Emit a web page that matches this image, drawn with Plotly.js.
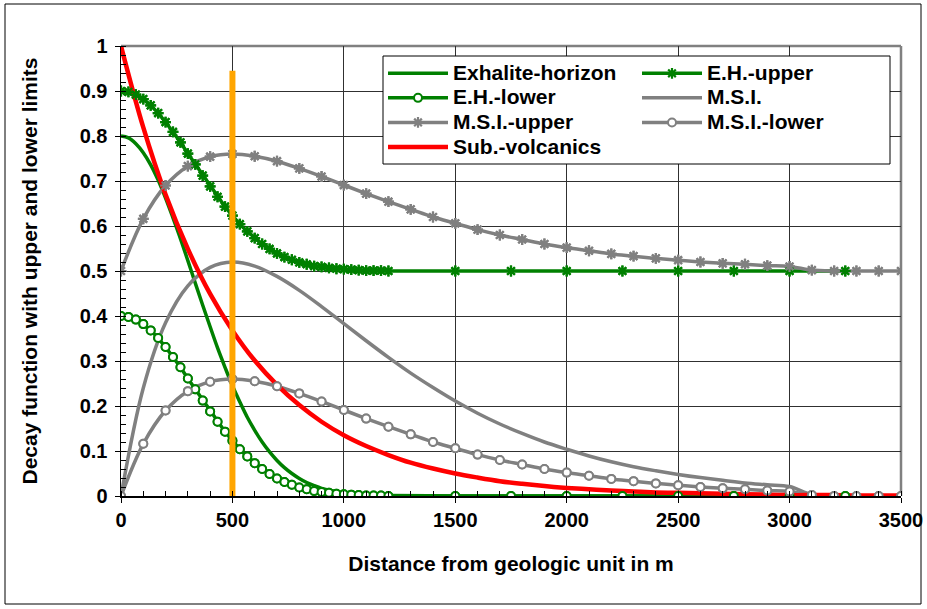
<!DOCTYPE html>
<html><head><meta charset="utf-8">
<script src="https://cdn.plot.ly/plotly-3.0.1.min.js"></script>
<style>html,body{margin:0;padding:0;background:#fff}#chart{width:927px;height:609px}</style>
</head><body><div id="chart"></div>
<script>
// Exhalite-horizon family (distance in m)
const ehX = [0,33.3,66.7,100,133.3,166.7,200,233.3,266.7,300,333.3,366.7,400,433.3,466.7,500,533.3,566.7,600,633.3,666.7,700,733.3,766.7,800,833.3,866.7,900,933.3,966.7,1000,1033.3,1066.7,1100,1133.3,1166.7,1200,1500,1750,2000,2250,2500,2750,3000,3250];
const exhalite = [0.80,0.796,0.783,0.763,0.736,0.702,0.662,0.618,0.572,0.523,0.473,0.424,0.376,0.329,0.286,0.245,0.209,0.175,0.146,0.120,0.098,0.079,0.063,0.050,0.039,0.030,0.023,0.017,0.013,0.010,0.007,0.005,0.004,0.003,0.002,0.001,0.001,0,0,0,0,0,0,0,0];
const ehUpper = [0.90,0.898,0.892,0.882,0.868,0.851,0.831,0.809,0.786,0.761,0.737,0.712,0.688,0.665,0.643,0.623,0.604,0.588,0.573,0.560,0.549,0.539,0.531,0.525,0.519,0.515,0.511,0.509,0.507,0.505,0.504,0.503,0.502,0.501,0.501,0.501,0.500,0.5,0.5,0.5,0.5,0.5,0.5,0.5,0.5];
const ehLower = [0.40,0.398,0.392,0.382,0.368,0.351,0.331,0.309,0.286,0.261,0.237,0.212,0.188,0.165,0.143,0.123,0.104,0.088,0.073,0.060,0.049,0.039,0.031,0.025,0.019,0.015,0.011,0.009,0.007,0.005,0.004,0.003,0.002,0.001,0.001,0.001,0,0,0,0,0,0,0,0,0];
// M.S.I. family
const msiX = [0,100,200,300,400,500,600,700,800,900,1000,1100,1200,1300,1400,1500,1600,1700,1800,1900,2000,2100,2200,2300,2400,2500,2600,2700,2800,2900,3000,3100,3200,3300,3400,3500];
const msi = [0,0.240,0.385,0.467,0.508,0.520,0.511,0.488,0.457,0.421,0.383,0.345,0.308,0.273,0.241,0.211,0.184,0.160,0.139,0.120,0.104,0.089,0.076,0.065,0.056,0.048,0.041,0.035,0.029,0.025,0.021,0.003,0,0,0,0];
const msiUpper = [0.5,0.616,0.690,0.733,0.754,0.760,0.755,0.744,0.728,0.710,0.691,0.672,0.654,0.637,0.620,0.606,0.592,0.580,0.570,0.560,0.552,0.545,0.538,0.533,0.528,0.524,0.520,0.517,0.515,0.512,0.510,0.502,0.5,0.5,0.5,0.5];
const msiLower = [0,0.116,0.190,0.233,0.254,0.260,0.255,0.244,0.228,0.210,0.191,0.172,0.154,0.137,0.120,0.106,0.092,0.080,0.070,0.060,0.052,0.045,0.038,0.033,0.028,0.024,0.020,0.017,0.015,0.012,0.010,0.002,0,0,0,0];
// Sub.-volcanics
const subX = [0,100,200,300,400,500,600,700,800,900,1000,1100,1200,1300,1400,1500,1600,1700,1800,1900,2000,2100,2200,2300,2400,2500,2600,2700,2800,2900,3000,3100,3200,3300,3400,3500];
const subVolcanics = [1,0.819,0.670,0.549,0.449,0.368,0.301,0.247,0.202,0.165,0.135,0.111,0.091,0.074,0.061,0.050,0.041,0.033,0.027,0.022,0.018,0.015,0.012,0.010,0.008,0.007,0.006,0.005,0.004,0.003,0.002,0.002,0.002,0.001,0.001,0.001];
// Orange reference line at 500 m
const refX = [500,500];
const refY = [0,0.945];
const seriesNames = ['Exhalite-horizon','E.H.-upper','E.H.-lower','M.S.I.','M.S.I.-upper','M.S.I.-lower','Sub.-volcanics'];

const GREEN = '#008000', GREY = '#808080', RED = '#FF0000', ORANGE = '#FFA500';
const FONT = 'Liberation Sans, Arial, sans-serif';
const lg = s => '<span style="font-size:21px">' + s + '</span>';

const circ = c => ({symbol:'circle', size:8, color:'#ffffff', line:{color:c, width:2}});
const star = c => ({symbol:'asterisk', size:9, color:c, line:{color:c, width:2.2}});

const traces = [
  {name:lg(seriesNames[0]), legend:'legend',  x:ehX, y:exhalite, mode:'lines', line:{color:GREEN, width:3.5, shape:'spline'}},
  {name:lg(seriesNames[1]), legend:'legend2', x:ehX, y:ehUpper, mode:'lines+markers', line:{color:GREEN, width:3.5}, marker:star(GREEN)},
  {name:lg(seriesNames[2]), legend:'legend',  x:ehX, y:ehLower, mode:'lines+markers', line:{color:GREEN, width:3.5}, marker:circ(GREEN)},
  {name:lg(seriesNames[3]), legend:'legend2', x:msiX, y:msi, mode:'lines', line:{color:GREY, width:3.5, shape:'spline'}},
  {name:lg(seriesNames[4]), legend:'legend',  x:msiX, y:msiUpper, mode:'lines+markers', line:{color:GREY, width:3.5, shape:'spline'}, marker:star(GREY)},
  {name:lg(seriesNames[5]), legend:'legend2', x:msiX, y:msiLower, mode:'lines+markers', line:{color:GREY, width:3.5, shape:'spline'}, marker:circ(GREY)},
  {name:lg(seriesNames[6]), legend:'legend',  x:subX, y:subVolcanics, mode:'lines', line:{color:RED, width:4.5, shape:'spline'}},
  // markers redrawn above all lines (as in the original)
  {x:ehX, y:ehUpper, mode:'markers', marker:star(GREEN), showlegend:false},
  {x:ehX, y:ehLower, mode:'markers', marker:circ(GREEN), showlegend:false},
  {x:msiX, y:msiUpper, mode:'markers', marker:star(GREY), showlegend:false},
  {x:msiX, y:msiLower, mode:'markers', marker:circ(GREY), showlegend:false},
  {x:refX, y:refY, mode:'lines', line:{color:ORANGE, width:6}, showlegend:false}
];
traces.forEach(t => { t.hoverinfo = 'skip'; t.cliponaxis = true; });

const PX = v => (v - 121) / 780, PY = v => (496 - v) / 450;
const legendBase = {
  orientation:'v', y:PY(56), xanchor:'left', yanchor:'top', itemwidth:60,
  bgcolor:'rgba(0,0,0,0)', borderwidth:0, traceorder:'normal',
  font:{family:FONT, size:16.6, color:'#000', weight:'bold'}
};

const layout = {
  width:927, height:609,
  margin:{l:121, r:26, t:46, b:113, autoexpand:false},
  paper_bgcolor:'#ffffff', plot_bgcolor:'#ffffff',
  font:{family:FONT, size:20, color:'#000', weight:'bold'},
  showlegend:true,
  xaxis:{
    range:[0,3500], dtick:500, tick0:0, showgrid:true, gridcolor:'#303030', gridwidth:1,
    zeroline:false, showline:true, linecolor:'#000', linewidth:1.5,
    ticks:'outside', ticklen:5, tickcolor:'#000', tickwidth:1,
    minor:{dtick:100, ticks:'inside', ticklen:5, tickcolor:'#000', showgrid:false},
    tickfont:{family:FONT, size:20, color:'#000', weight:'bold'},
    title:{text:'Distance from geologic unit in m', font:{family:FONT, size:21, color:'#000', weight:'bold'}, standoff:27},
    fixedrange:true
  },
  yaxis:{
    range:[0,1], dtick:0.1, tick0:0, showgrid:true, gridcolor:'#303030', gridwidth:1,
    zeroline:false, showline:true, linecolor:'#000', linewidth:1.5,
    ticks:'outside', ticklen:5, tickcolor:'#000', tickwidth:1, ticklabelstandoff:3,
    minor:{dtick:0.02, ticks:'inside', ticklen:5, tickcolor:'#000', showgrid:false},
    tickfont:{family:FONT, size:20, color:'#000', weight:'bold'},
    title:{text:'Decay function with upper and lower limits', font:{family:FONT, size:21, color:'#000', weight:'bold'}, standoff:36},
    fixedrange:true
  },
  legend:Object.assign({}, legendBase, {x:PX(383)}),
  legend2:Object.assign({}, legendBase, {x:PX(637)}),
  shapes:[
    {type:'line', xref:'paper', yref:'paper', x0:0, x1:1, y0:1, y1:1, line:{color:GREY, width:2.5}, layer:'below'},
    {type:'line', xref:'paper', yref:'paper', x0:1, x1:1, y0:0, y1:1, line:{color:GREY, width:2.5}, layer:'below'},
    {type:'rect', xref:'paper', yref:'paper', x0:PX(5), x1:PX(921), y0:PY(604), y1:PY(4), line:{color:'#000', width:1}, layer:'below'},
    {type:'rect', xref:'paper', yref:'paper', x0:PX(383), x1:PX(890), y0:PY(164), y1:PY(56), fillcolor:'#ffffff', line:{color:'#000', width:1}, layer:'above'}
  ]
};

Plotly.newPlot('chart', traces, layout, {displayModeBar:false, staticPlot:true});
</script>
</body></html>
